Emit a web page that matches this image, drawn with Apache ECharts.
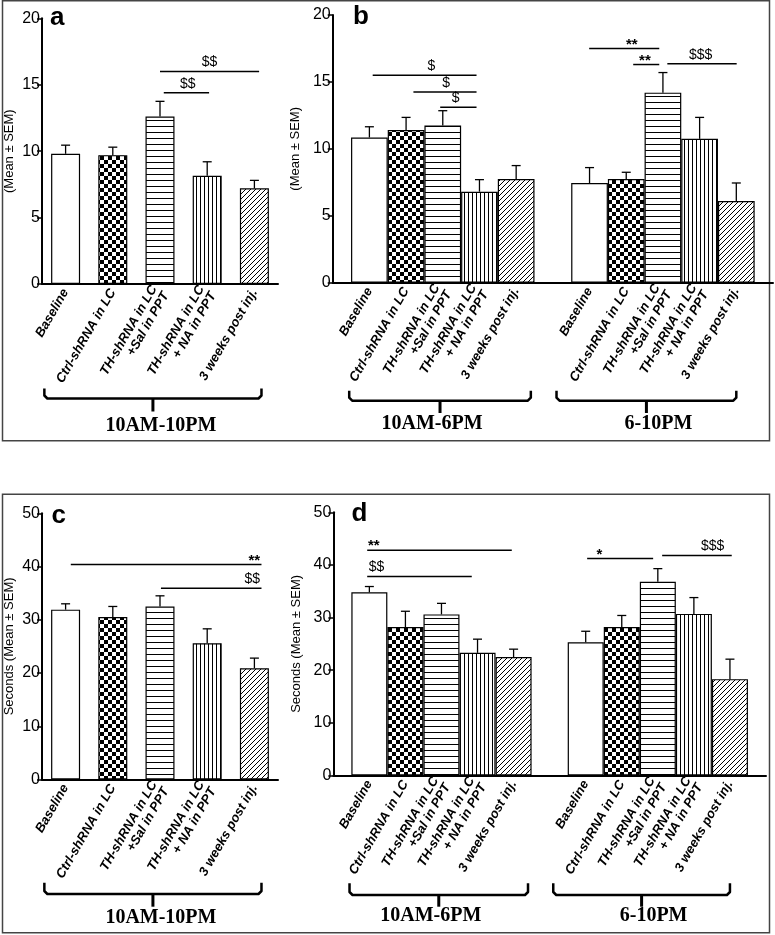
<!DOCTYPE html>
<html lang="en">
<head>
<meta charset="UTF-8">
<title>LC TH-shRNA bar charts</title>
<script src="https://cdn.jsdelivr.net/npm/echarts@6/dist/echarts.min.js"></script>
<style>
    body { margin: 0; background: #fff; }
    #chart { width: 775px; height: 935px; }
</style>
</head>
<body>
<div id="chart"></div>
<script>
// group names (x labels), shared by all panels
var groups = ['Baseline', 'Ctrl-shRNA in LC', 'TH-shRNA in LC\n+Sal in PPT', 'TH-shRNA in LC\n+ NA in PPT', '3 weeks post inj.'];

// panel a: 10AM-10PM, mean and mean+SEM
var aMean = [9.8, 9.7, 12.6, 8.15, 7.2];
var aTop  = [10.45, 10.3, 13.75, 9.2, 7.8];
// panel b: 10AM-6PM and 6-10PM
var bMeanDay = [10.85, 11.4, 11.75, 6.8, 7.75];
var bTopDay  = [11.65, 12.35, 12.85, 7.7, 8.75];
var bMeanEve = [7.45, 7.75, 14.2, 10.75, 6.1];
var bTopEve  = [8.6, 8.25, 15.7, 12.35, 7.45];
// panel c: seconds, 10AM-10PM
var cMean = [31.9, 30.5, 32.5, 25.6, 20.9];
var cTop  = [33.0, 32.5, 34.5, 28.3, 22.8];
// panel d: seconds, 10AM-6PM and 6-10PM
var dMeanDay = [34.8, 28.2, 30.6, 23.3, 22.5];
var dTopDay  = [35.9, 31.2, 32.7, 25.9, 24.0];
var dMeanEve = [25.3, 28.2, 36.8, 30.7, 18.3];
var dTopEve  = [27.4, 30.4, 39.3, 33.8, 22.1];

// y ticks
var yTicksTop = [0, 5, 10, 15, 20];
var yTicksBottom = [0, 10, 20, 30, 40, 50];

// significance bars: [from, to, level, labelAt, text, align]
var aSig = [[2.0, 4.1, 16.0, 3.05, '$$', 'center'], [2.08, 3.04, 14.4, 2.59, '$$', 'center']];
var bSig = [[0.09, 2.92, 15.5, 1.69, '$', 'center'], [1.2, 2.92, 14.25, 2.09, '$', 'center'],
            [1.93, 2.92, 13.1, 2.35, '$', 'center'], [5.99, 7.9, 17.5, 7.15, '**', 'center'],
            [7.19, 7.9, 16.3, 7.51, '**', 'center'], [8.12, 10.01, 16.35, 9.03, '$$$', 'center']];
var cSig = [[0.11, 4.15, 40.4, 4.12, '**', 'right'], [2.02, 4.15, 35.9, 4.12, '$$', 'right']];
var dSig = [[-0.06, 3.95, 42.8, -0.04, '**', 'left'], [-0.06, 2.84, 37.8, -0.02, '$$', 'left'],
            [6.04, 7.87, 41.2, 6.38, '*', 'center'], [8.12, 10.05, 41.8, 9.52, '$$$', 'center']];

// ---- fill patterns ----
function makeCanvas(w, h, draw) {
    var c = document.createElement('canvas');
    c.width = w; c.height = h;
    var ctx = c.getContext('2d');
    ctx.fillStyle = '#fff';
    ctx.fillRect(0, 0, w, h);
    ctx.fillStyle = '#000';
    ctx.strokeStyle = '#000';
    draw(ctx);
    return { image: c, repeat: 'repeat' };
}
var fills = [
    '#fff',
    makeCanvas(8, 8, function (ctx) { ctx.fillRect(0, 0, 4, 4); ctx.fillRect(4, 4, 4, 4); }),
    makeCanvas(4, 6, function (ctx) { ctx.fillRect(0, 0, 4, 1); }),
    makeCanvas(4, 4, function (ctx) { ctx.fillRect(0, 0, 1, 4); }),
    makeCanvas(5, 5, function (ctx) {
        ctx.lineWidth = 1;
        ctx.beginPath();
        ctx.moveTo(0, 5); ctx.lineTo(5, 0);
        ctx.moveTo(-1, 1); ctx.lineTo(1, -1);
        ctx.moveTo(4, 6); ctx.lineTo(6, 4);
        ctx.stroke();
    })
];

var sansFont = '"Liberation Sans", Arial, sans-serif';

// panel layout
var panels = [
    { grid: { left: 42, top: 18.3, width: 236, height: 265.7 }, xmin: -0.5, xmax: 4.5, ymax: 20, step: 5,
      barW: 29, sets: [[0, aMean, aTop]], sig: aSig, yname: '(Mean ± SEM)', nameGap: 26 },
    { grid: { left: 332.7, top: 15, width: 440.3, height: 267.7 }, xmin: -1, xmax: 11, ymax: 20, step: 5,
      barW: 36.7, sets: [[0, bMeanDay, bTopDay], [6, bMeanEve, bTopEve]], sig: bSig, yname: '(Mean ± SEM)', nameGap: 28 },
    { grid: { left: 42, top: 513.3, width: 236, height: 266.2 }, xmin: -0.5, xmax: 4.5, ymax: 50, step: 10,
      barW: 29, sets: [[0, cMean, cTop]], sig: cSig, yname: 'Seconds (Mean ± SEM)', nameGap: 26 },
    { grid: { left: 333.3, top: 512.3, width: 432.7, height: 263.2 }, xmin: -1, xmax: 11, ymax: 50, step: 10,
      barW: 36, sets: [[0, dMeanDay, dTopDay], [6, dMeanEve, dTopEve]], sig: dSig, yname: 'Seconds (Mean ± SEM)', nameGap: 29 }
];

var grids = [], xAxes = [], yAxes = [], series = [];

panels.forEach(function (p, k) {
    grids.push(p.grid);
    var positions = [], bars = [], errs = [];
    p.sets.forEach(function (s) {
        s[1].forEach(function (v, i) {
            positions.push(s[0] + i);
            bars.push({ value: [s[0] + i, v], itemStyle: { color: fills[i] } });
            errs.push([s[0] + i, v, s[2][i]]);
        });
    });
    xAxes.push({
        type: 'value', gridIndex: k, min: p.xmin, max: p.xmax,
        axisLine: { show: true, onZero: false, lineStyle: { color: '#000', width: 2 } },
        axisTick: { show: false },
        splitLine: { show: false },
        axisLabel: {
            customValues: positions,
            formatter: function (v) { return groups[Math.round(v) % 6]; },
            rotate: 60, margin: 6, color: '#000',
            fontFamily: sansFont, fontSize: 13, fontWeight: 'bold', fontStyle: 'italic', lineHeight: 13.5
        }
    });
    yAxes.push({
        type: 'value', gridIndex: k, min: 0, max: p.ymax, interval: p.step,
        name: p.yname, nameLocation: 'middle', nameRotate: 90, nameGap: p.nameGap,
        nameTextStyle: { color: '#000', fontFamily: sansFont, fontSize: 13 },
        axisLine: { show: true, onZero: false, lineStyle: { color: '#000', width: 2 } },
        axisTick: { show: true, length: 5, lineStyle: { color: '#000', width: 1.5 } },
        splitLine: { show: false },
        axisLabel: { color: '#000', fontFamily: sansFont, fontSize: 16, margin: 2 }
    });
    series.push({
        type: 'bar', xAxisIndex: k, yAxisIndex: k, barWidth: p.barW, data: bars,
        itemStyle: { borderColor: '#000', borderWidth: 1.2 }, silent: true
    });
    series.push({
        type: 'custom', xAxisIndex: k, yAxisIndex: k, data: errs, silent: true,
        renderItem: function (params, api) {
            var a = api.coord([api.value(0), api.value(1)]);
            var b = api.coord([api.value(0), api.value(2)]);
            var st = { stroke: '#000', lineWidth: 1.3 };
            return { type: 'group', children: [
                { type: 'line', shape: { x1: a[0], y1: a[1], x2: b[0], y2: b[1] }, style: st },
                { type: 'line', shape: { x1: b[0] - 4.5, y1: b[1], x2: b[0] + 4.5, y2: b[1] }, style: st }
            ] };
        }
    });
    var sig = p.sig;
    series.push({
        type: 'custom', xAxisIndex: k, yAxisIndex: k, silent: true,
        data: sig.map(function (s) { return [s[0], s[1], s[2], s[3]]; }),
        renderItem: function (params, api) {
            var s = sig[params.dataIndex];
            var a = api.coord([api.value(0), api.value(2)]);
            var b = api.coord([api.value(1), api.value(2)]);
            var l = api.coord([api.value(3), api.value(2)]);
            var star = s[4].charAt(0) === '*';
            return { type: 'group', children: [
                { type: 'line', shape: { x1: a[0], y1: a[1], x2: b[0], y2: b[1] }, style: { stroke: '#000', lineWidth: 1.5 } },
                { type: 'text', style: {
                    x: l[0], y: a[1] - (star ? 4 : 9), text: s[4], fill: '#000',
                    font: (star ? 'bold 15px ' : '14px ') + sansFont, align: s[5], verticalAlign: 'middle'
                } }
            ] };
        }
    });
});

var myChart = echarts.init(document.getElementById('chart'));
myChart.setOption({
    animation: false,
    grid: grids,
    xAxis: xAxes,
    yAxis: yAxes,
    series: series
});

// braces under the labels, placed from the x axes
var braces = [
    { axis: 0, yTop: 388.5, yH: 398.5, yBot: 411.5, yText: 426, parts: [[-0.45, 4.15, '10AM-10PM', 8]] },
    { axis: 1, yTop: 390.7, yH: 400.7, yBot: 413, yText: 423.5, parts: [[-0.55, 4.4, '10AM-6PM', -8], [5.1, 10.0, '6-10PM', 12]] },
    { axis: 2, yTop: 882.7, yH: 894, yBot: 906.7, yText: 918.3, parts: [[-0.45, 4.15, '10AM-10PM', 8]] },
    { axis: 3, yTop: 883.3, yH: 895, yBot: 906.7, yText: 916.3, parts: [[-0.55, 4.4, '10AM-6PM', -8], [5.1, 10.0, '6-10PM', 12]] }
];
var graphics = [
    { type: 'rect', shape: { x: 2.5, y: 0.8, width: 767, height: 440 }, style: { fill: null, stroke: '#444', lineWidth: 1.5 } },
    { type: 'rect', shape: { x: 2.5, y: 494.3, width: 767, height: 438.4 }, style: { fill: null, stroke: '#444', lineWidth: 1.5 } }
];
braces.forEach(function (br) {
    br.parts.forEach(function (pt) {
        var x1 = myChart.convertToPixel({ xAxisIndex: br.axis }, pt[0]);
        var x2 = myChart.convertToPixel({ xAxisIndex: br.axis }, pt[1]);
        var xc = (x1 + x2) / 2;
        graphics.push({
            type: 'polyline',
            shape: { points: [[x1, br.yTop], [x1, br.yH - 3], [x1 + 3, br.yH], [x2 - 3, br.yH], [x2, br.yH - 3], [x2, br.yTop]] },
            style: { stroke: '#000', lineWidth: 2.5, fill: null, lineJoin: 'round' }
        });
        graphics.push({
            type: 'line', shape: { x1: xc, y1: br.yH, x2: xc, y2: br.yBot },
            style: { stroke: '#000', lineWidth: 3 }
        });
        graphics.push({
            type: 'text', style: {
                x: xc + pt[3], y: br.yText, text: pt[2], fill: '#000',
                font: 'bold 20px "Liberation Serif", "Times New Roman", serif', align: 'center', verticalAlign: 'middle'
            }
        });
    });
});
// panel letters
[['a', 50, 18], ['b', 353, 17], ['c', 51.5, 515.5], ['d', 351.5, 513.5]].forEach(function (t) {
    graphics.push({ type: 'text', style: { x: t[1], y: t[2], text: t[0], fill: '#000',
        font: 'bold 26px ' + sansFont, align: 'left', verticalAlign: 'middle' } });
});
myChart.setOption({ graphic: graphics });
</script>
</body>
</html>
